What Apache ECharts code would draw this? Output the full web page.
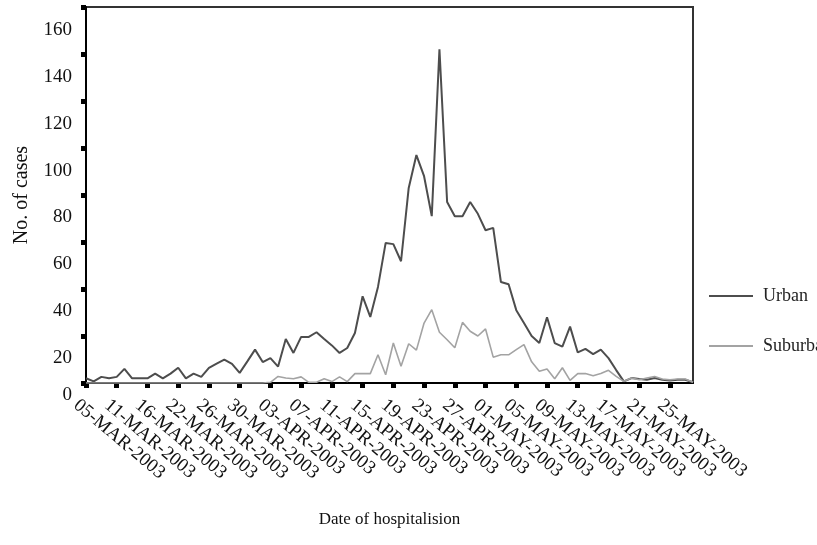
<!DOCTYPE html>
<html>
<head>
<meta charset="utf-8">
<title>SARS cases by date of hospitalisation</title>
<script src="https://cdn.jsdelivr.net/npm/echarts@6/dist/echarts.min.js"></script>
<style>
  html, body { margin: 0; padding: 0; background: #fff; }
  #chart { width: 817px; height: 545px; }
</style>
</head>
<body>
<div id="chart"></div>
<script>
  // categories: early March is not daily, from 22-MAR on it is
  const dates = [
    '05-MAR-2003', '06-MAR-2003', '07-MAR-2003', '09-MAR-2003', '11-MAR-2003', '12-MAR-2003', '13-MAR-2003', '14-MAR-2003',
    '16-MAR-2003', '18-MAR-2003', '19-MAR-2003', '20-MAR-2003', '22-MAR-2003', '23-MAR-2003', '24-MAR-2003', '25-MAR-2003',
    '26-MAR-2003', '27-MAR-2003', '28-MAR-2003', '29-MAR-2003', '30-MAR-2003', '31-MAR-2003', '01-APR-2003', '02-APR-2003',
    '03-APR-2003', '04-APR-2003', '05-APR-2003', '06-APR-2003', '07-APR-2003', '08-APR-2003', '09-APR-2003', '10-APR-2003',
    '11-APR-2003', '12-APR-2003', '13-APR-2003', '14-APR-2003', '15-APR-2003', '16-APR-2003', '17-APR-2003', '18-APR-2003',
    '19-APR-2003', '20-APR-2003', '21-APR-2003', '22-APR-2003', '23-APR-2003', '24-APR-2003', '25-APR-2003', '26-APR-2003',
    '27-APR-2003', '28-APR-2003', '29-APR-2003', '30-APR-2003', '01-MAY-2003', '02-MAY-2003', '03-MAY-2003', '04-MAY-2003',
    '05-MAY-2003', '06-MAY-2003', '07-MAY-2003', '08-MAY-2003', '09-MAY-2003', '10-MAY-2003', '11-MAY-2003', '12-MAY-2003',
    '13-MAY-2003', '14-MAY-2003', '15-MAY-2003', '16-MAY-2003', '17-MAY-2003', '18-MAY-2003', '19-MAY-2003', '20-MAY-2003',
    '21-MAY-2003', '22-MAY-2003', '23-MAY-2003', '24-MAY-2003', '25-MAY-2003', '26-MAY-2003', '27-MAY-2003', '28-MAY-2003'
  ]

  const urban = [
    2, 0.7, 2.6, 2, 2.6, 6, 2, 2,
    2, 4, 2, 4, 6.5, 2, 4, 2.6,
    6.4, 8.2, 9.9, 8.1, 4.3, 9.2, 14.2, 8.9,
    10.6, 7, 18.7, 12.8, 19.6, 19.6, 21.6, 18.7,
    16, 12.8, 14.9, 21.3, 36.9, 28.1, 40.9, 59.6,
    59.1, 51.8, 83, 97, 88, 71, 142, 77,
    71, 71, 77, 72, 65, 66, 43, 42,
    31, 25.5, 20, 17, 28, 17, 15.5, 24,
    13, 14.5, 12.3, 14.2, 10.6, 5.5, 0.7, 2.1,
    1.7, 1.4, 2.1, 1.4, 1.1, 1.4, 1.4, 0.3
  ]

  const suburban = [
    0, 0, 0, 0, 0, 0, 0, 0,
    0, 0, 0, 0, 0, 0, 0, 0,
    0, 0, 0, 0, 0, 0, 0, 0,
    0.3, 2.8, 2.1, 1.8, 2.6, 0.3, 0.3, 1.8,
    0.6, 2.6, 0.6, 4, 4, 4, 12, 3.5,
    17, 7.1, 16.7, 14, 25.5, 31.2, 21.6, 18.4,
    15, 25.8, 22, 20, 23, 11, 12, 12,
    14.2, 16.3, 9, 5, 6, 1.8, 6.5, 1.1,
    4, 4, 3.1, 4, 5.4, 2.8, 0.7, 2.1,
    1.4, 2.1, 2.8, 1.7, 1.4, 1.7, 1.7, 0.3
  ]

  const serif = '"Liberation Serif", "DejaVu Serif", serif'
  const txt = { fontFamily: serif, fontSize: 19, color: '#111' }

  let myChart = echarts.init(document.getElementById('chart'))
  myChart.setOption({
    animation: false,
    grid: [
      { left: 86, right: 124, top: 7, bottom: 162, show: true, borderColor: '#333', borderWidth: 2 },
      // second grid only carries the y labels, they sit lower than the ticks
      { left: 86, right: 124, top: 30, bottom: 140 }
    ],
    xAxis: [{
      type: 'category',
      data: dates,
      boundaryGap: false,
      z: 3,
      axisLine: { lineStyle: { color: '#000', width: 2 } },
      axisTick: { interval: 3, length: 5, lineStyle: { color: '#000', width: 5 } },
      axisLabel: Object.assign({
        interval: 3, rotate: -40, margin: 8,
        verticalAlign: 'top', padding: [6, 0, 0, 0]
      }, txt),
      name: 'Date of hospitalision',
      nameLocation: 'middle',
      nameGap: 128,
      nameTextStyle: { fontFamily: serif, fontSize: 17, color: '#111' }
    }, {
      gridIndex: 1, type: 'value', show: false, min: 0, max: 1
    }],
    yAxis: [{
      type: 'value',
      min: 0,
      max: 160,
      interval: 20,
      z: 3,
      splitLine: { show: false },
      axisLine: { show: true, lineStyle: { color: '#000', width: 2 } },
      axisTick: { show: true, length: 5, lineStyle: { color: '#000', width: 5 } },
      axisLabel: Object.assign({
        formatter: v => v === 0 ? '0' : '',
        verticalAlign: 'top',
        padding: [3, 0, 0, 0],
        margin: 14
      }, txt),
      name: 'No. of cases',
      nameLocation: 'middle',
      nameGap: 54,
      nameTextStyle: { fontFamily: serif, fontSize: 20, color: '#111' }
    }, {
      gridIndex: 1,
      type: 'value',
      min: 0,
      max: 160,
      interval: 20,
      splitLine: { show: false },
      axisLine: { show: false },
      axisTick: { show: false },
      axisLabel: Object.assign({ formatter: v => v === 0 ? '' : v, margin: 14 }, txt)
    }],
    legend: {
      orient: 'vertical',
      left: 703,
      top: 282,
      itemWidth: 44,
      itemHeight: 16,
      itemGap: 32,
      itemStyle: { opacity: 0 },
      textStyle: { fontFamily: serif, fontSize: 18, color: '#222', padding: [0, 0, 0, 5] },
      data: ['Urban', 'Suburban']
    },
    series: [{
      name: 'Urban',
      type: 'line',
      data: urban,
      symbol: 'none',
      itemStyle: { color: '#4d4d4d' },
      lineStyle: { color: '#4d4d4d', width: 2 }
    }, {
      name: 'Suburban',
      type: 'line',
      data: suburban,
      symbol: 'none',
      itemStyle: { color: '#a3a3a3' },
      lineStyle: { color: '#a3a3a3', width: 1.6 }
    }]
  })
</script>
</body>
</html>
